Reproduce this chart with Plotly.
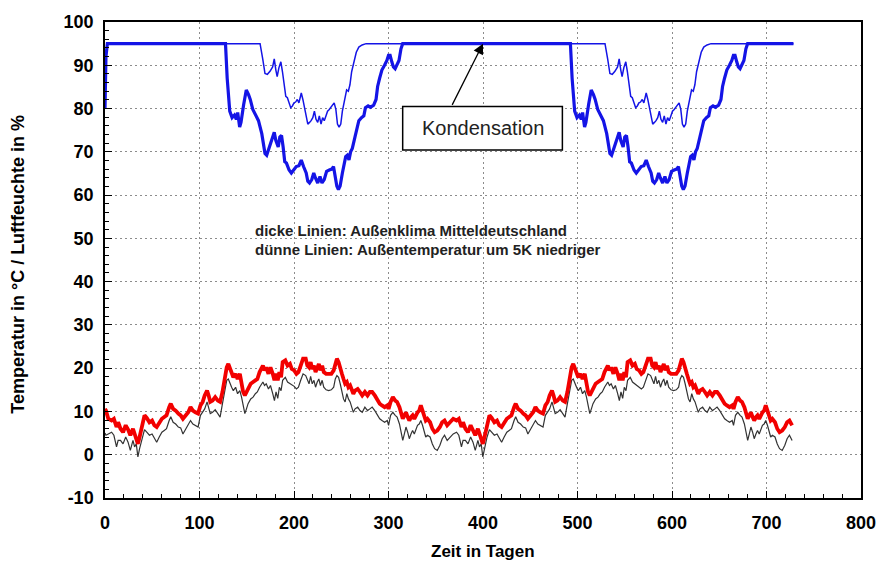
import plotly.graph_objects as go

# ---- one simulated year (day of year -> value); the second year repeats the climate year ----
# relative humidity, outside climate Mitteldeutschland (thick blue)
rh_out_days = [0, 1, 2.5, 127.5, 129.3, 132, 134.5, 137, 139, 140.4, 142.5, 143.9, 146.7, 149.5,
               151.9, 153.7, 156.4, 158.9, 162.4, 165.9, 169.3, 171.1, 173.9, 176.3, 179.1, 180.8,
               183.3, 185, 186.8, 188.5, 190.2, 192, 194.8, 197.2, 200, 202.4, 205.2, 207.7, 210.1,
               212.9, 214.6, 216.4, 218.8, 220.9, 222.6, 225.1, 227.5, 229.6, 232, 234.5, 237.3,
               240, 241.8, 243.6, 245.3, 247, 248.8, 251.2, 253, 254.7, 256.4, 258.2, 259.9, 261.7,
               264.5, 266.9, 268.6, 271.4, 273.9, 275.6, 278.4, 280.8, 284.3, 286.8, 288.5, 290.6,
               293, 295.8, 298.3, 300, 301.7, 303.5, 305.2, 307, 308.7, 311.1, 313.2, 315, 363.5]
rh_out = [80, 92, 95, 95, 87, 79.4, 77.9, 78.5, 77.5, 79.1, 75.7, 76.8, 80.9, 84.3,
          83.2, 82.1, 79.8, 78.7, 77.2, 74.2, 69.6, 69.2, 71.1, 72.6, 74.5, 72.6,
          71.1, 73.4, 73.8, 71.1, 67.7, 67.4, 65.8, 65.1, 65.8, 66.6, 66.8, 68.1, 66.6,
          65.1, 63.2, 62.8, 63.6, 65.1, 64, 62.8, 64.3, 62.8, 63.6, 65.5, 65.8,
          66, 66.6, 64.7, 62.1, 61.3, 62.1, 65.1, 67.4, 68.9, 69.2, 68.1, 70, 70.8,
          73.4, 75.3, 77.2, 77.9, 78.3, 80.2, 80.6, 80.3, 80.8, 82.1, 85.1, 87,
          88.9, 90, 91.1, 92.3, 92.3, 90.8, 89.6, 89.2, 90, 91.1, 93.8, 95, 95]

# relative humidity, outside temperature 5 K lower (thin blue)
rh_cold_days = [0, 1, 2.5, 164.1, 166.9, 169.3, 171.8, 174.6, 177.4, 179.1, 180.8, 182.2, 184,
                186.1, 187.8, 189.5, 191.3, 193, 194.8, 196.5, 198.3, 200, 201.7, 203.5, 205.2,
                206.6, 207.7, 209.4, 211.1, 212.9, 214.6, 216.4, 218.1, 219.9, 221.6, 223.3, 225.1,
                226.8, 228.6, 230.3, 232, 233.8, 235.5, 237.3, 239, 240.8, 242.5, 244.3, 246,
                247.7, 249.5, 251.2, 253, 254.7, 255.7, 257.5, 259.2, 261, 263.4, 265.9, 268.6,
                272.1, 276.3, 363.5]
rh_cold = [80, 92, 95, 95, 91.5, 88.1, 87.9, 88.6, 89.6, 91.5, 88.9, 87.4, 89.4,
           90.8, 88.5, 85.1, 82.8, 82.5, 81.3, 80.2, 80.6, 81.3, 81.5, 82.1, 81.3,
           82.5, 83.6, 82.1, 80.2, 78.3, 76.4, 76.8, 77.2, 77.9, 79.4, 77.5, 76.8,
           78.3, 76.4, 77.9, 77.2, 78.3, 79.4, 79.8, 80.3, 80.6, 81.3, 79.8, 76.4,
           75.7, 76.4, 79.4, 81.7, 83.2, 84.3, 84, 85.5, 88.5, 90.8, 93, 94.2,
           94.7, 95, 95]

# temperatures (red: outside climate, black: 5 K lower) on common days
t_days = [0, 1, 3.5, 7, 9.4, 12.2, 13.9, 16.4, 19.1, 21.9, 24.4, 26.8, 29.6, 31.3, 33.1, 34.8,
          36.6, 39.3, 41.8, 44.2, 47, 49.8, 52.2, 54.7, 57.4, 60.2, 62.7, 65.1, 67.9, 69.6, 72.1,
          74.8, 77.6, 80.1, 82.5, 85.3, 88.1, 90.5, 93, 95.7, 98.5, 101, 103.4, 105.5, 108, 109.7,
          111.4, 113.8, 116.6, 119.4, 121.8, 124.3, 127.1, 128.8, 130.5, 132.3, 134, 135.8, 138.2,
          140.3, 142.7, 144.5, 146.2, 148, 149.7, 151.4, 154.2, 156.7, 159.1, 161.2, 163.6, 165.4,
          167.1, 168.8, 170.6, 173, 175.1, 177.5, 179.3, 181, 182.8, 184.5, 186.3, 188, 190.8,
          193.2, 195.7, 197.7, 200.2, 202.6, 204.7, 207.1, 209.6, 212.4, 214.1, 215.9, 217.6,
          219.3, 221.1, 222.8, 224.6, 226.3, 228, 229.8, 231.5, 234, 236.7, 239.5, 242, 243.7,
          245.4, 247.2, 248.9, 250.7, 252.4, 254.1, 255.9, 257.6, 259.4, 261.1, 262.8, 264.6,
          267.4, 269.8, 272.2, 275, 277.8, 280.3, 282.7, 285.5, 288.3, 290.7, 293.1, 295.9,
          298.7, 300.1, 302.2, 304.6, 307.1, 309.1, 311.6, 313.3, 315.1, 316.8, 318.5, 320.3,
          322, 323.8, 325.5, 327.3, 329, 330.7, 332.5, 334.2, 336, 337.7, 339.4, 341.2, 344,
          346.4, 348.8, 351.6, 354.4, 356.8, 359.3, 362.1]
t_out = [10.6, 10.2, 8.3, 7.9, 8.3, 6.4, 7.5, 6.0, 5.2, 6.8, 5.8, 4.5, 6.0, 4.8, 4.1, 2.5,
         4.1, 6.8, 9.1, 8.5, 7.5, 7.9, 6.8, 6.4, 7.5, 8.3, 8.7, 9.1, 11.0, 11.8, 10.6,
         10.2, 9.5, 9.1, 8.3, 9.1, 9.8, 11.0, 10.2, 9.8, 9.5, 11.4, 12.2, 13.7, 14.8, 13.7,
         12.2, 12.5, 13.3, 12.5, 12.2, 14.5, 18.3, 20.2, 21.0, 19.8, 19.1, 17.9, 18.7,
         17.5, 18.7, 16.0, 14.5, 13.7, 14.5, 15.2, 16.4, 16.8, 17.2, 17.5, 19.1, 20.2,
         20.6, 19.5, 20.2, 18.7, 20.2, 18.7, 17.2, 18.7, 17.2, 19.1, 17.9, 21.4, 21.8,
         20.6, 21.0, 19.8, 19.5, 18.7, 19.1, 20.6, 22.2, 22.2, 20.6, 20.2, 21.4,
         19.8, 20.6, 19.1, 20.2, 21.0, 19.5, 20.6, 19.1, 18.7, 18.7, 18.7, 19.5, 21.4,
         22.2, 21.4, 19.8, 18.7, 17.5, 16.4, 16.8, 15.6, 16.0, 14.8, 14.1, 14.8,
         15.2, 14.5, 13.7, 14.5, 13.7, 14.5, 14.5, 13.7, 12.5, 11.8, 11.4, 11.0,
         11.4, 10.6, 12.2, 13.3, 12.5, 12.2, 11.0, 9.8, 8.3, 9.1, 9.8, 8.7,
         7.9, 8.7, 9.1, 8.3, 9.1, 9.8, 10.2, 11.4, 10.2, 9.1, 7.9, 8.3, 7.5,
         6.0, 5.2, 5.6, 6.4, 7.5, 7.9, 6.8]
t_cold = [5.0, 4.5, 4.8, 5.2, 4.5, 1.8, 3.3, 3.3, 2.5, 4.1, 2.9, 1.0, 3.3, 1.8, 2.5, -0.5,
          1.4, 4.1, 5.8, 5.2, 4.5, 4.8, 3.7, 2.9, 4.1, 5.2, 5.6, 6.0, 7.9, 8.8, 7.5,
          7.1, 6.4, 6.2, 4.8, 5.8, 6.8, 7.9, 7.1, 6.8, 6.4, 9.1, 9.8, 10.6, 12.2, 11.0,
          9.5, 9.8, 10.4, 9.5, 8.7, 11.8, 15.2, 17.2, 17.5, 16.4, 15.6, 14.8, 15.6,
          14.1, 14.8, 13.3, 11.4, 9.5, 10.6, 11.8, 12.9, 13.3, 14.1, 14.5, 15.6, 16.4,
          16.8, 16.0, 16.4, 15.2, 16.0, 14.1, 12.5, 14.5, 13.0, 15.6, 14.8, 17.2, 17.9,
          16.8, 16.4, 16.0, 15.8, 15.2, 15.6, 17.2, 18.7, 18.3, 17.2, 16.4, 18.1,
          16.4, 17.2, 15.6, 16.8, 17.5, 16.0, 17.2, 15.6, 15.0, 14.8, 15.0, 15.6, 17.5,
          18.3, 17.9, 16.4, 14.8, 12.9, 12.2, 14.1, 12.9, 12.2, 11.0, 9.8, 10.6,
          11.0, 10.2, 9.8, 11.0, 10.2, 10.6, 11.0, 10.2, 9.1, 8.3, 7.9, 7.5,
          7.9, 6.8, 9.1, 9.8, 9.1, 8.7, 7.1, 5.6, 3.3, 4.8, 6.4, 5.2,
          3.7, 4.8, 5.6, 4.8, 5.6, 6.8, 7.1, 7.9, 6.8, 5.6, 4.1, 4.5, 4.1,
          2.5, 1.4, 1.0, 2.2, 3.7, 4.5, 3.3]

x_ticks = [0, 100, 200, 300, 400, 500, 600, 700, 800]
y_ticks = [-10, 0, 10, 20, 30, 40, 50, 60, 70, 80, 90, 100]

YEAR = 365


def two_years(days, values, start):
    """Append the repeated climate year (without the start-up transient)."""
    d = list(days) + [t + YEAR for t in days if t >= start]
    v = list(values) + [y for t, y in zip(days, values) if t >= start]
    return d, v


FONT = "Liberation Sans, Arial, Helvetica, sans-serif"
BLUE = "#1414e6"
RED = "#f20000"

fig = go.Figure()

x, y = two_years(t_days, t_cold, 3)
fig.add_trace(go.Scatter(x=x, y=y, mode="lines", line=dict(color="#333333", width=1.2)))
x, y = two_years(t_days, t_out, 3)
fig.add_trace(go.Scatter(x=x, y=y, mode="lines", line=dict(color=RED, width=3.8)))
x, y = two_years(rh_cold_days, rh_cold, 2)
fig.add_trace(go.Scatter(x=x, y=y, mode="lines", line=dict(color=BLUE, width=1.5)))
x, y = two_years(rh_out_days, rh_out, 2)
fig.add_trace(go.Scatter(x=x, y=y, mode="lines", line=dict(color=BLUE, width=3.2)))

axis_common = dict(
    showline=True, linecolor="black", linewidth=1.5, mirror=True,
    showgrid=True, gridcolor="#8c8c8c", gridwidth=1.3, griddash="2px,3px",
    zeroline=False, ticks="inside", ticklen=7, tickwidth=1.2, tickcolor="black",
    tickfont=dict(family=FONT, size=18, color="black", weight="bold"),
)

fig.update_xaxes(range=[0, 800], tickvals=x_ticks, ticktext=[str(v) for v in x_ticks],
                 ticklabelstandoff=8,
                 minor=dict(tick0=0, dtick=20, ticks="inside", ticklen=4,
                            tickcolor="black", showgrid=False),
                 **axis_common)
fig.update_yaxes(range=[-10, 100], tickvals=y_ticks, ticktext=[str(v) for v in y_ticks],
                 ticklabelstandoff=6,
                 minor=dict(tick0=0, dtick=2, ticks="inside", ticklen=4,
                            tickcolor="black", showgrid=False),
                 **axis_common)

# "Kondensation" callout box with arrow
fig.add_shape(type="rect", xref="x", yref="y", x0=315, x1=484, y0=70.4, y1=80.5,
              fillcolor="white", line=dict(color="black", width=1.5), layer="above")
fig.add_annotation(x=399.5, y=75.5, xref="x", yref="y", text="Kondensation",
                   showarrow=False, font=dict(family=FONT, size=20, color="#222222"))
fig.add_annotation(x=400, y=95, xref="x", yref="y", ax=366.6, ay=80.5,
                   axref="x", ayref="y", text="", showarrow=True,
                   arrowhead=2, arrowsize=1.6, arrowwidth=1.3, arrowcolor="black", standoff=0)

# legend text
fig.add_annotation(x=156.7, y=51.8, xref="x", yref="y", xanchor="left", yanchor="middle",
                   text="dicke Linien: Außenklima Mitteldeutschland", showarrow=False,
                   font=dict(family=FONT, size=15, color="#222222", weight="bold"))
fig.add_annotation(x=156.7, y=47.5, xref="x", yref="y", xanchor="left", yanchor="middle",
                   text="dünne Linien: Außentemperatur um 5K niedriger", showarrow=False,
                   font=dict(family=FONT, size=15, color="#222222", weight="bold"))

# axis titles
fig.add_annotation(x=0.5, y=0, xref="paper", yref="paper", yanchor="middle", yshift=-53,
                   text="Zeit in Tagen", showarrow=False,
                   font=dict(family=FONT, size=17, color="black", weight="bold"))
fig.add_annotation(x=0, y=0.49, xref="paper", yref="paper", xanchor="center", xshift=-87,
                   textangle=-90, text="Temperatur in °C / Luftfeuchte in %", showarrow=False,
                   font=dict(family=FONT, size=18, color="black", weight="bold"))

fig.update_layout(width=888, height=569, margin=dict(l=105, r=17, t=19, b=71),
                  plot_bgcolor="white", paper_bgcolor="white", showlegend=False,
                  font=dict(family=FONT, color="black"))

fig.write_html("out.html")
